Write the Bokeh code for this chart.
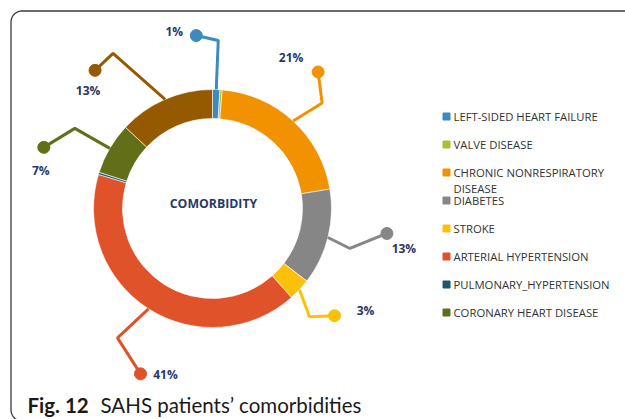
import math
from bokeh.plotting import figure
from bokeh.models import Range1d
from bokeh.core.properties import value
from bokeh.embed import file_html
from bokeh.resources import INLINE

# ---------------- data ----------------
categories = [
    "LEFT-SIDED HEART FAILURE",
    "VALVE DISEASE",
    "CHRONIC NONRESPIRATORY DISEASE",
    "DIABETES",
    "STROKE",
    "ARTERIAL HYPERTENSION",
    "PULMONARY_HYPERTENSION",
    "CORONARY HEART DISEASE",
    "OTHER",
]
percent = [1, 0.3, 21, 13, 3, 41, 0.3, 7, 13]
colors = ["#3C8BBC", "#A9C232", "#F39200", "#868686", "#FBC10A",
          "#E0532A", "#1F5673", "#636F18", "#955A00"]
legend_count = 8  # items shown in the legend
title_center = "COMORBIDITY"
caption_bold = "Fig. 12"
caption_text = "SAHS patients\u2019 comorbidities"

# ---------------- layout (screen px) ----------------
W, H = 625, 419
def SY(sy):
    return H - sy

CX, CY = 212, 208
R_OUT, R_IN = 119, 90
NAVY = "#27386A"

# leader geometry: elbow offset, end offset (from anchor), label offset (from end)
leaders = {
    "LEFT-SIDED HEART FAILURE": ((2, -49), (-20, -54), (-22, -4)),
    "CHRONIC NONRESPIRATORY DISEASE": ((29, -18), (25, -49), (-27, -14)),
    "DIABETES": ((22, 11), (59, -4), (17, 15)),
    "STROKE": ((10, 27), (35, 26), (31, -5)),
    "ARTERIAL HYPERTENSION": ((-31, 29), (-8, 65), (25, 1)),
    "CORONARY HEART DISEASE": ((-35, -20), (-66, -1), (-3, 23)),
    "OTHER": ((-52, -46), (-70, -29), (-7, 20)),
}

p = figure(width=W, height=H, x_range=Range1d(0, W), y_range=Range1d(0, H),
           output_backend="svg", toolbar_location=None,
           x_axis_location=None, y_axis_location=None, min_border=0)
p.grid.visible = False
p.outline_line_color = None
p.background_fill_color = "white"
p.border_fill_color = "white"

# frame box with rounded left corners
BL, BT, BB, RAD = 10.5, 10.5, 420.5, 11
fx, fy = [W + 5, BL + RAD], [BT, BT]
for k in range(0, 91, 10):
    a = math.radians(90 + k)
    fx.append(BL + RAD + RAD * math.cos(a))
    fy.append(BT + RAD - RAD * math.sin(a))
for k in range(0, 91, 10):
    a = math.radians(180 + k)
    fx.append(BL + RAD + RAD * math.cos(a))
    fy.append(BB - RAD - RAD * math.sin(a))
fx.append(W + 5)
fy.append(BB)
p.line(fx, [SY(v) for v in fy], line_color="#3a3a3a", line_width=1.3)

# wedges
total = sum(percent)
starts, ends, mids = [], [], []
acc = 0.0
for v in percent:
    a0 = acc / total * 360
    acc += v
    a1 = acc / total * 360
    starts.append(math.radians(90 - a0))
    ends.append(math.radians(90 - a1))
    mids.append(math.radians((a0 + a1) / 2))

p.annular_wedge(x=CX, y=SY(CY), inner_radius=R_IN, outer_radius=R_OUT,
                start_angle=starts, end_angle=ends, direction="clock",
                fill_color=colors, line_color="white", line_width=0.6)

p.text(x=[CX + 1], y=[SY(CY - 5)], text=[title_center], text_align="center",
       text_baseline="middle", text_font=value("Open Sans"),
       text_font_style="bold", text_font_size="12.3px", text_color=NAVY)

# leader lines + labels
for i, name in enumerate(categories):
    if name not in leaders:
        continue
    (ex, ey), (tx, ty), (lx, ly) = leaders[name]
    m = mids[i]
    ax = CX + R_OUT * math.sin(m)
    ay = CY - R_OUT * math.cos(m)
    xs = [ax, ax + ex, ax + tx]
    ys = [SY(ay), SY(ay + ey), SY(ay + ty)]
    p.line(xs, ys, line_color=colors[i], line_width=3)
    p.scatter([xs[-1]], [ys[-1]], size=12, fill_color=colors[i],
              line_color=colors[i])
    p.text(x=[ax + tx + lx], y=[SY(ay + ty + ly)], text=[f"{percent[i]:g}%"],
           text_align="center", text_baseline="middle",
           text_font=value("Open Sans"), text_font_style="bold",
           text_font_size="12px", text_color=NAVY)

# legend
LX, LY0, LDY = 446, 116, 28
for i in range(legend_count):
    y = LY0 + LDY * i
    p.scatter([LX], [SY(y)], marker="square", size=7, fill_color=colors[i],
              line_color=colors[i])
    words = categories[i].split(" ")
    lines, cur = [], ""
    for w in words:
        if cur and len(cur) + 1 + len(w) > 24:
            lines.append(cur)
            cur = w
        else:
            cur = (cur + " " + w).strip()
    lines.append(cur)
    for k, ln in enumerate(lines):
        p.text(x=[LX + 7], y=[SY(y + 16 * k)], text=[ln], text_align="left",
               text_baseline="middle", text_font=value("Open Sans"),
               text_font_size="11.3px", text_color="#333333")

# caption
p.text(x=[27], y=[SY(404)], text=[caption_bold], text_align="left",
       text_baseline="alphabetic", text_font=value("Lato"),
       text_font_style="bold", text_font_size="20.5px", text_color="#1a1a1a")
p.text(x=[100], y=[SY(404)], text=[caption_text], text_align="left",
       text_baseline="alphabetic", text_font=value("Lato"),
       text_font_size="20.5px", text_color="#1a1a1a")

open("out.html", "w").write(file_html(p, INLINE))
